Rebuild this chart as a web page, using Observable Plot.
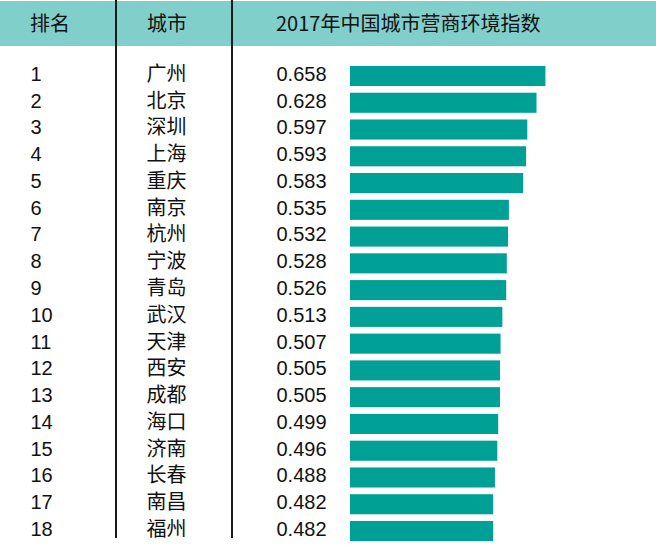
<!DOCTYPE html>
<html><head><meta charset="utf-8">
<script src="https://cdn.jsdelivr.net/npm/d3@7"></script>
<script src="https://cdn.jsdelivr.net/npm/@observablehq/plot@0.6"></script>
<style>
body{margin:0;background:#fff;font-family:"Noto Sans CJK SC","Noto Sans",sans-serif;}
#wrap{position:relative;width:656px;height:558px;overflow:hidden;background:#fff}
#head{position:absolute;left:0;top:1px;width:656px;height:45px;background:#80cfcb;}
#head span{position:absolute;top:0;line-height:44px;font-size:20px;color:#111;white-space:nowrap}
.sep{position:absolute;top:0;width:2px;height:538px;background:#1a1a1a;z-index:2}
#chart{position:absolute;left:0;top:46px}
#chart svg{display:block}
</style></head>
<body>
<div id="wrap">
  <div id="head"></div>
  <div class="sep" style="left:115px"></div>
  <div class="sep" style="left:231px"></div>
  <div id="chart"></div>
</div>
<script>
const headers = ["排名", "城市", "2017年中国城市营商环境指数"];
const ranks = [1,2,3,4,5,6,7,8,9,10,11,12,13,14,15,16,17,18];
const cities = ["广州","北京","深圳","上海","重庆","南京","杭州","宁波","青岛","武汉","天津","西安","成都","海口","济南","长春","南昌","福州"];
const values = [0.658,0.628,0.597,0.593,0.583,0.535,0.532,0.528,0.526,0.513,0.507,0.505,0.505,0.499,0.496,0.488,0.482,0.482];

const head = document.getElementById("head");
const headLeft = [30, 147, 276];
headers.forEach((h, i) => {
  const s = document.createElement("span");
  s.textContent = h;
  s.style.left = headLeft[i] + "px";
  head.appendChild(s);
});

const data = ranks.map((r, i) => ({rank: String(r), city: cities[i], value: values[i]}));
const font = '"Liberation Sans","Noto Sans CJK SC",sans-serif';

const chart = Plot.plot({
  width: 656,
  height: 512,
  marginTop: 0, marginRight: 0, marginBottom: 0, marginLeft: 0,
  style: {fontFamily: font, fontSize: "20px", color: "#111", background: "transparent"},
  x: {domain: [0, 1], range: [350, 647], axis: null},
  y: {domain: ranks.map(String), range: [16.6, 498.4], paddingInner: 0.25, paddingOuter: 0.125, round: false, axis: null},
  marks: [
    Plot.barX(data, {x: "value", y: "rank", fill: "#00a096"}),
    Plot.text(data, {y: "rank", text: "rank", frameAnchor: "left", textAnchor: "start", dx: 30, dy: -2, fontSize: 20, fill: "#111"}),
    Plot.text(data, {y: "rank", text: "city", frameAnchor: "left", textAnchor: "middle", dx: 166, dy: -2, fontSize: 20, fill: "#111"}),
    Plot.text(data, {y: "rank", text: d => d.value.toFixed(3), frameAnchor: "left", textAnchor: "start", dx: 276, dy: -2, fontSize: 20, fill: "#111"})
  ]
});
document.getElementById("chart").appendChild(chart);
</script>
</body></html>
